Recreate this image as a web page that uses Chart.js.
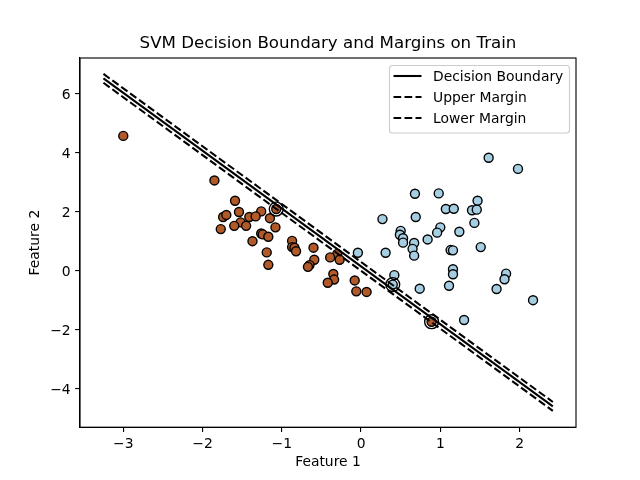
<!DOCTYPE html>
<html><head><meta charset="utf-8">
<style>html,body{margin:0;padding:0;background:#fff}canvas{display:block}</style>
<script src="https://cdn.jsdelivr.net/npm/chart.js@4"></script>
</head><body><canvas id="c" width="640" height="480"></canvas>
<script>
const titleText = "SVM Decision Boundary and Margins on Train";
const xLabel = "Feature 1";
const yLabel = "Feature 2";
const xTicks = [-3,-2,-1,0,1,2];
const yTicks = [-4,-2,0,2,4,6];
const xRange = [-3.546,2.712];
const yRange = [-5.295,7.22];
const brownX = [-3.00,-1.85,-1.59,-1.54,-1.26,-1.07,-1.74,-1.70,-1.41,-1.33,-1.15,-1.52,-1.60,-1.45,-1.77,-1.08,-1.26,-1.24,-1.17,-1.37,-0.87,-0.87,-0.84,-0.82,-0.60,-1.19,-0.59,-1.17,-0.65,-0.67,-0.30,-0.39,-0.27,-0.35,-0.34,-0.42,-0.08,-0.06,0.07,0.89];
const brownY = [4.58,3.07,2.38,2.00,2.02,2.10,1.83,1.90,1.83,1.85,1.79,1.65,1.53,1.53,1.42,1.48,1.27,1.24,1.16,1.01,1.02,0.81,0.79,0.67,0.79,0.63,0.38,0.21,0.20,0.14,0.58,0.46,0.38,-0.10,-0.29,-0.40,-0.32,-0.69,-0.71,-1.72];
const blueX = [1.61,1.98,0.68,0.98,1.47,1.07,1.17,1.40,1.46,0.27,0.69,1.43,1.00,0.96,1.24,0.50,0.49,0.53,0.53,0.84,0.67,0.65,0.67,1.13,1.16,1.51,-0.04,0.31,1.16,1.16,0.42,0.40,0.74,1.11,1.83,1.81,1.71,2.17,1.30];
const blueY = [3.84,3.46,2.62,2.63,2.38,2.10,2.11,2.06,2.08,1.76,1.83,1.63,1.48,1.30,1.33,1.36,1.23,1.11,0.96,1.07,0.95,0.75,0.52,0.71,0.70,0.81,0.62,0.62,0.06,-0.11,-0.14,-0.46,-0.60,-0.50,-0.09,-0.28,-0.61,-0.99,-1.66];
const svX = [-1.07,0.40,0.89];
const svY = [2.10,-0.46,-1.72];
const lineX = [-3.25,2.42];
const boundaryY = [6.53,-4.59];
const upperY = [6.68,-4.44];
const lowerY = [6.38,-4.74];
const pts = (xs,ys)=>xs.map((x,i)=>({x,y:ys[i]}));
const minus = v=>String(v).replace('-','\u2212');
const FONT = '"DejaVu Sans"';
const dash=[7.7,3.3];
const lineDs=(label,ys,d)=>({type:'line',label,data:pts(lineX,ys),borderColor:'#000',borderWidth:2.08,borderDash:d,pointRadius:0,fill:false,showLine:true,order:0,isLegend:true,borderCapStyle:'butt',tension:0});
const frameLegend={id:'frameLegend',afterDraw(chart){
  const {ctx,chartArea:a}=chart;
  ctx.save();
  ctx.strokeStyle='#000';ctx.lineWidth=1.11;ctx.setLineDash([]);
  ctx.strokeRect(a.left,a.top,a.right-a.left,a.bottom-a.top);
  ctx.fillStyle='rgba(255,255,255,0.8)';ctx.strokeStyle='#cccccc';ctx.lineWidth=1.11;
  ctx.beginPath();ctx.roundRect(389.5,65.5,180,67.5,3);ctx.fill();ctx.stroke();
  ctx.font='13.89px '+FONT;ctx.textBaseline='middle';ctx.textAlign='left';
  chart.data.datasets.filter(d=>d.isLegend).forEach((d,i)=>{
    const y=76+i*21;
    ctx.strokeStyle='#000';ctx.lineWidth=2.08;ctx.setLineDash(d.borderDash||[]);
    ctx.beginPath();ctx.moveTo(393.5,y);ctx.lineTo(421.5,y);ctx.stroke();
    ctx.fillStyle='#000';ctx.setLineDash([]);ctx.fillText(d.label,433,y+1);
  });
  ctx.restore();
}};
new Chart(document.getElementById('c'),{
  type:'scatter',
  data:{datasets:[
    lineDs('Decision Boundary',boundaryY,[]),
    lineDs('Upper Margin',upperY,dash),
    lineDs('Lower Margin',lowerY,dash),
    {label:'Support Vectors',data:pts(svX,svY),pointRadius:6.94,pointBorderWidth:1.39,pointBackgroundColor:'rgba(0,0,0,0)',pointBorderColor:'#000',order:1},
    {label:'Class 1',data:pts(blueX,blueY),pointRadius:4.5,pointBorderWidth:1.39,pointBackgroundColor:'#a6cee3',pointBorderColor:'#000',order:2},
    {label:'Class 0',data:pts(brownX,brownY),pointRadius:4.5,pointBorderWidth:1.39,pointBackgroundColor:'#b15928',pointBorderColor:'#000',order:3}
  ]},
  options:{
    responsive:false,animation:false,devicePixelRatio:1,
    layout:{padding:{left:0,right:64,top:0,bottom:0}},
    plugins:{
      legend:{display:false},tooltip:{enabled:false},
      title:{display:true,text:titleText,fullSize:false,color:'#000',font:{family:FONT,size:16.67,weight:'normal',lineHeight:1.2},padding:{top:34,bottom:4}}
    },
    scales:{
      x:{type:'linear',min:xRange[0],max:xRange[1],
        afterBuildTicks:s=>{s.ticks=xTicks.map(v=>({value:v}))},
        afterFit:s=>{s.height=52.8},
        grid:{drawOnChartArea:false,color:'#000',lineWidth:1.11,tickLength:4.86,tickColor:'#000'},
        border:{color:'#000',width:1.11},
        ticks:{color:'#000',autoSkip:false,maxRotation:0,padding:4.5,font:{family:FONT,size:13.89},callback:minus},
        title:{display:true,text:xLabel,color:'#000',font:{family:FONT,size:13.89},padding:{top:4,bottom:9.7}}
      },
      y:{type:'linear',min:yRange[0],max:yRange[1],
        afterBuildTicks:s=>{s.ticks=yTicks.map(v=>({value:v}))},
        afterFit:s=>{s.width=80},
        grid:{drawOnChartArea:false,color:'#000',lineWidth:1.11,tickLength:4.86,tickColor:'#000'},
        border:{color:'#000',width:1.11},
        ticks:{color:'#000',autoSkip:false,padding:4.5,labelOffset:1,font:{family:FONT,size:13.89},callback:minus},
        title:{display:true,text:yLabel,color:'#000',font:{family:FONT,size:13.89},padding:{top:26.7,bottom:4}}
      }
    }
  },
  plugins:[frameLegend]
});
</script></body></html>
